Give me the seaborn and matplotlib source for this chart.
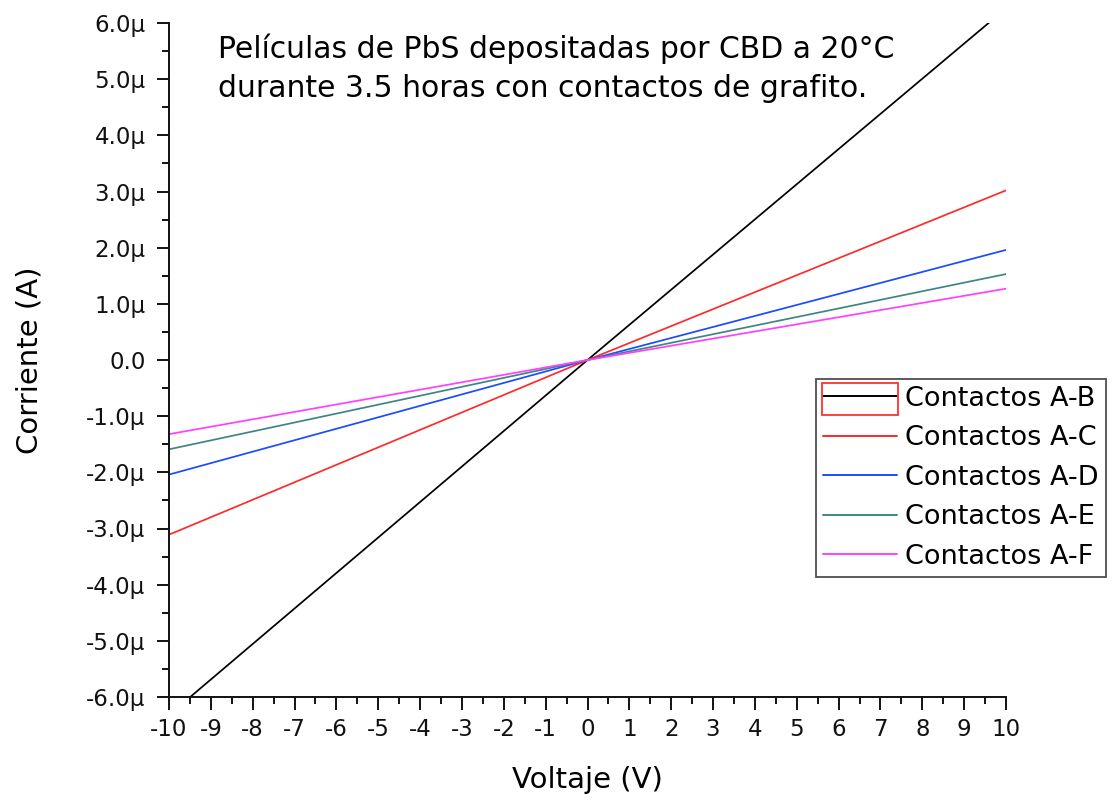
import matplotlib
matplotlib.use("Agg")
import matplotlib.pyplot as plt
from matplotlib.ticker import MultipleLocator, FuncFormatter
from matplotlib.patches import Rectangle
import numpy as np
import pandas as pd
import seaborn as sns

# Voltage sweep end points and origin (V)
voltaje = [-10.0, 0.0, 10.0]

# Measured current for each contact pair (µA)
corriente_AB = [-6.32, 0.0, 6.26]
corriente_AC = [-3.11, 0.0, 3.02]
corriente_AD = [-2.04, 0.0, 1.96]
corriente_AE = [-1.59, 0.0, 1.53]
corriente_AF = [-1.32, 0.0, 1.27]

series = ["Contactos A-B", "Contactos A-C", "Contactos A-D",
          "Contactos A-E", "Contactos A-F"]
colores = ["#000000", "#ff2a2a", "#1a4cff", "#3f8585", "#ff40ff"]

titulo = "Películas de PbS depositadas por CBD a 20°C\ndurante 3.5 horas con contactos de grafito."

df = pd.concat([
    pd.DataFrame({"Voltaje": voltaje, "Corriente": c, "Serie": s})
    for s, c in zip(series, [corriente_AB, corriente_AC, corriente_AD,
                             corriente_AE, corriente_AF])
], ignore_index=True)

sns.set_theme(style="ticks")
plt.rcParams["font.family"] = ["DejaVu Sans"]
plt.rcParams["axes.unicode_minus"] = False
plt.rcParams["text.color"] = "black"
plt.rcParams["axes.labelcolor"] = "black"
plt.rcParams["xtick.color"] = "#111111"
plt.rcParams["ytick.color"] = "#111111"

fig = plt.figure(figsize=(11.16, 8.0), dpi=100)
ax = fig.add_axes([169 / 1116, 1 - 697 / 800, (1006 - 169) / 1116, (697 - 23) / 800])

sns.lineplot(data=df, x="Voltaje", y="Corriente", hue="Serie",
             hue_order=series, palette=colores, estimator=None,
             sort=True, linewidth=1.25, ax=ax)

ax.set_xlim(-10, 10)
ax.set_ylim(-6, 6)

ax.xaxis.set_major_locator(MultipleLocator(1))
ax.xaxis.set_minor_locator(MultipleLocator(0.5))
ax.yaxis.set_major_locator(MultipleLocator(1))
ax.yaxis.set_minor_locator(MultipleLocator(0.5))


def fmt_x(v, pos):
    return f"{int(round(v))}"


def fmt_y(v, pos):
    if abs(v) < 1e-9:
        return "0.0"
    return f"{v:.1f}µ"


ax.xaxis.set_major_formatter(FuncFormatter(fmt_x))
ax.yaxis.set_major_formatter(FuncFormatter(fmt_y))

for side in ["top", "right"]:
    ax.spines[side].set_visible(False)
for side in ["left", "bottom"]:
    ax.spines[side].set_linewidth(1.4)
    ax.spines[side].set_color("#111111")

ax.tick_params(axis="both", which="major", length=9, width=1.4,
               direction="out", labelsize=16.5, pad=6)
ax.tick_params(axis="both", which="minor", length=5, width=1.4,
               direction="out")
ax.tick_params(axis="y", which="major", pad=8)

ax.set_xlabel("Voltaje (V)", fontsize=21)
ax.set_ylabel("Corriente (A)", fontsize=21)
ax.xaxis.set_label_coords(0.5, -(780 - 697) / 674)
ax.xaxis.label.set_va("center")
ax.yaxis.set_label_coords((29 - 169) / 837, (697 - 360) / 674)
ax.yaxis.label.set_va("center")

fig.text(218 / 1116, 1 - 68 / 800, titulo, fontsize=21.5, ha="left",
         va="center", linespacing=1.42, color="black")

handles, labels = ax.get_legend_handles_labels()
leg = ax.legend(handles, labels, loc="upper left",
                bbox_to_anchor=(816 / 1116, 1 - 379 / 800),
                bbox_transform=fig.transFigure, fontsize=19.5,
                frameon=True, fancybox=False, handlelength=2.75,
                handletextpad=0.3, labelspacing=0.5, borderpad=0.25,
                borderaxespad=0.0)
leg.get_frame().set_edgecolor("#222222")
leg.get_frame().set_linewidth(1.3)
for h in leg.legend_handles:
    h.set_linewidth(1.4)

# Selection box around the first legend entry's sample line
fig.canvas.draw()
renderer = fig.canvas.get_renderer()
hb = leg.legend_handles[0].get_window_extent(renderer)
tb = leg.get_texts()[0].get_window_extent(renderer)
inv = fig.transFigure.inverted()
x0, y0 = inv.transform((hb.x0 - 1, tb.y0 - 3))
x1, y1 = inv.transform((hb.x1 + 1, tb.y1 + 3))
fig.patches.append(Rectangle((x0, y0), x1 - x0, y1 - y0, fill=False,
                             edgecolor="#ff3030", linewidth=1.3,
                             transform=fig.transFigure, zorder=10))

fig.savefig("out.png", dpi=100)
